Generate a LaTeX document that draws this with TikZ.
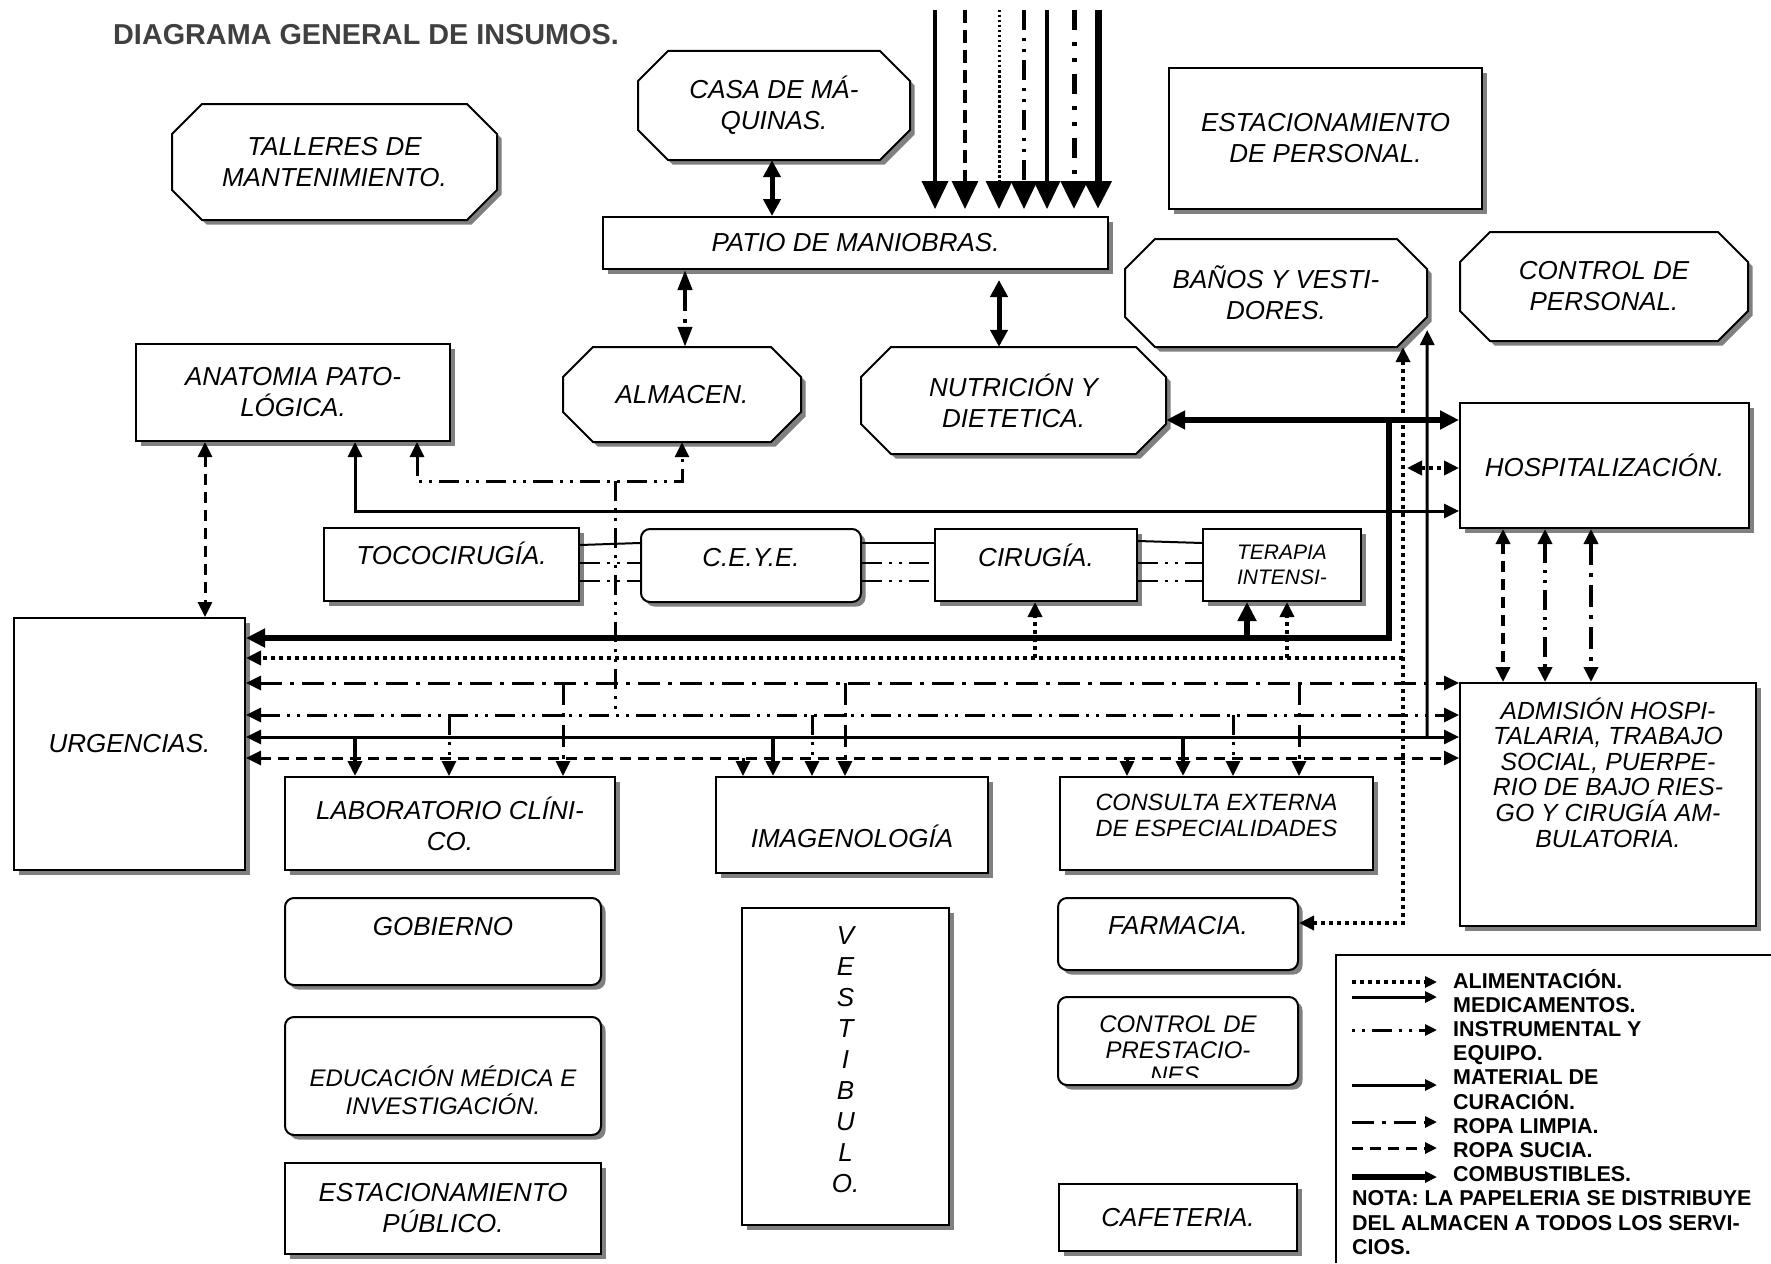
\documentclass[tikz,border=0pt]{standalone}
\usepackage{fontspec}
\setmainfont{Liberation Sans}
\usetikzlibrary{arrows.meta,shadows}

\definecolor{titlegray}{RGB}{64,64,64}
\definecolor{shade}{RGB}{128,128,128}

\newcommand{\boxfont}{\fontsize{26}{31}\selectfont\itshape}
\newcommand{\sizedfont}[2]{\fontsize{#1}{#2}\selectfont\itshape}
\newcommand{\legfont}{\fontsize{21.5}{24}\selectfont\bfseries}

\tikzset{
  boxline/.style={draw, line width=2pt, fill=white,
    drop shadow={shadow xshift=4.5pt, shadow yshift=-4.5pt, fill=shade, opacity=1}},
  box/.style={boxline, inner sep=0pt, align=center},
  rbox/.style={box, rounded corners=9pt},
  every label/.append style={align=center, inner sep=0pt},
  alim/.style={line width=4pt, dash pattern=on 4pt off 4pt},
  medic/.style={line width=3pt},
  instr/.style={line width=3pt, dash pattern=on 20pt off 7pt on 3pt off 7pt on 3pt off 7pt},
  limpia/.style={line width=3pt, dash pattern=on 22pt off 8pt on 4pt off 8pt},
  sucia/.style={line width=3pt, dash pattern=on 11pt off 7pt},
  comb/.style={line width=6.5pt, >={Triangle[length=19pt,width=18pt]}},
  heavy/.style={line width=5pt, >={Triangle[length=17pt,width=17pt]}},
  bigtip/.style={-{Triangle[length=28pt,width=26pt]}, shorten >=7pt},
  legtip/.style={-{Triangle[length=12pt,width=11pt]}},
  legtxt/.style={anchor=base west, font=\legfont, inner sep=0pt},
  % supply lines coming in from the top
  tmed/.style={line width=4pt},
  tsuc/.style={line width=3.3pt, dash pattern=on 13pt off 7pt},
  talim/.style={line width=3pt, dash pattern=on 2.5pt off 2.5pt},
  tinstr/.style={line width=3.3pt, dash pattern=on 20pt off 8pt on 3pt off 8pt on 3pt off 8pt},
  tcur/.style={line width=3.3pt},
  tlimp/.style={line width=5pt, dash pattern=on 20pt off 12pt on 4pt off 12pt on 4pt off 12pt},
  tcomb/.style={line width=7pt},
}

% octagonal box: name, x, y, width, height, text
\newcommand{\octbox}[6]{%
  \path[boxline] ({#2-#4/2+30},{#3-#5/2}) -- ({#2+#4/2-30},{#3-#5/2}) -- ({#2+#4/2},{#3-#5/2+30})
    -- ({#2+#4/2},{#3+#5/2-30}) -- ({#2+#4/2-30},{#3+#5/2}) -- ({#2-#4/2+30},{#3+#5/2})
    -- ({#2-#4/2},{#3+#5/2-30}) -- ({#2-#4/2},{#3-#5/2+30}) -- cycle;
  \node[inner sep=0pt, align=center, minimum width=#4pt, minimum height=#5pt] (#1) at (#2,#3) {#6};
}

\begin{document}
\begin{tikzpicture}[x=1pt, y=-1pt, font=\boxfont, >={Triangle[length=15pt,width=14pt]}]
%%%%% START %%%%%
\useasboundingbox (0,0) rectangle (1771,1263);

\node[anchor=base west, inner sep=0pt, text=titlegray, font=\fontsize{28.8}{34}\selectfont\bfseries] (titulo) at (113,45) {DIAGRAMA GENERAL DE INSUMOS.};

% upper row
\octbox{talleres}{334.5}{162}{325}{116}{TALLERES DE\\MANTENIMIENTO.}
\octbox{casa}{774}{105.5}{272}{109}{CASA DE MÁ-\\QUINAS.}
\node[box, minimum width=313pt, minimum height=141pt] (estper) at (1325.5,138.5) {ESTACIONAMIENTO\\DE PERSONAL.};
\node[box, minimum width=505pt, minimum height=52pt] (patio) at (855.5,243) {PATIO DE MANIOBRAS.};
\octbox{banos}{1276}{293}{302}{108}{BAÑOS Y VESTI-\\DORES.}
\octbox{ctrlper}{1604}{286.5}{288}{109}{CONTROL DE\\PERSONAL.}
\node[box, minimum width=314pt, minimum height=97pt] (anatomia) at (293,392.5) {ANATOMIA PATO-\\LÓGICA.};
\octbox{almacen}{682}{394.5}{238}{95}{ALMACEN.}
\octbox{nutricion}{1013.5}{400.5}{305}{107}{NUTRICIÓN Y\\DIETETICA.}
\node[box, minimum width=289pt, minimum height=125pt] (hosp) at (1604.5,465.5) {HOSPITALIZACIÓN.};

% surgical row
\node[box, minimum width=255pt, minimum height=73pt, label={[yshift=11pt]center:TOCOCIRUGÍA.}] (toco) at (451.5,564.5) {};
\node[rbox, minimum width=220pt, minimum height=73pt, label={[yshift=8pt]center:C.E.Y.E.}] (ceye) at (751,565.5) {};
\node[box, minimum width=202pt, minimum height=72pt, label={[yshift=10pt]center:CIRUGÍA.}] (cirugia) at (1036,565) {};
\node[box, minimum width=158pt, minimum height=72pt, font=\sizedfont{21}{25}] (terapia) at (1282,565) {TERAPIA\\INTENSI-};

% lower rows
\node[box, minimum width=231pt, minimum height=252pt] (urg) at (129.5,744) {URGENCIAS.};
\node[box, minimum width=296pt, minimum height=243pt, label={[yshift=32pt, font=\sizedfont{24.8}{25.6}]center:{ADMISIÓN HOSPI-\\TALARIA, TRABAJO\\SOCIAL, PUERPE-\\RIO DE BAJO RIES-\\GO Y CIRUGÍA AM-\\BULATORIA.}}] (admision) at (1608,804.5) {};
\node[box, minimum width=330pt, minimum height=93pt] (lab) at (450,823.5) {LABORATORIO CLÍNI-\\CO.};
\node[box, minimum width=272pt, minimum height=96pt, label={[yshift=-11pt]center:IMAGENOLOGÍA}] (imagen) at (852,825) {};
\node[box, minimum width=313pt, minimum height=93pt, label={[yshift=8pt, font=\sizedfont{23.5}{26}]center:CONSULTA EXTERNA\\DE ESPECIALIDADES}] (consulta) at (1216.5,823.5) {};
\node[rbox, minimum width=316pt, minimum height=87pt, label={[yshift=15pt]center:GOBIERNO}] (gobierno) at (443,941.5) {};
\node[box, minimum width=207pt, minimum height=317pt, label={[yshift=7pt]center:V\\E\\S\\T\\I\\B\\U\\L\\O.}] (vestibulo) at (845.5,1066.5) {};
\node[rbox, minimum width=240pt, minimum height=72pt, label={[yshift=8pt]center:FARMACIA.}] (farmacia) at (1178,934) {};
\node[rbox, minimum width=316pt, minimum height=118pt, label={[yshift=-14pt, font=\sizedfont{24}{28}]center:EDUCACIÓN MÉDICA E\\INVESTIGACIÓN.}] (educacion) at (443,1076) {};
\node[rbox, minimum width=240pt, minimum height=88pt] (prest) at (1178,1041) {};
\begin{scope}
  \clip (1058,997) rectangle (1298,1077);
  \node[align=center, inner sep=0pt, font=\sizedfont{24}{25.5}] (presttxt) at (1178,1050) {CONTROL DE\\PRESTACIO-\\NES.};
\end{scope}
\node[box, minimum width=316pt, minimum height=91pt] (estpub) at (443,1208.5) {ESTACIONAMIENTO\\PÚBLICO.};
\node[box, minimum width=238pt, minimum height=67pt] (cafeteria) at (1178,1217.5) {CAFETERIA.};

% incoming supplies
\foreach \x/\s [count=\i] in {935/tmed, 965/tsuc, 999/talim, 1024/tinstr, 1047/tcur, 1074/tlimp, 1098/tcomb} {
  \coordinate (in\i) at (\x,10);
  \draw[\s, bigtip] (in\i) -- (patio.north -| \x,0);
}

% patio
\draw[heavy, <->] (casa.south -| 772,0) -- (patio.north -| 772,0);
\draw[heavy, <->, shorten <=10pt] (patio.south -| 999,0) -- (nutricion.north -| 999,0);
\draw[limpia, line width=4pt, <->, >={Triangle[length=20pt,width=14pt]}] (patio.south -| 685,0) -- (almacen.north -| 685,0);

% combustibles
\draw[comb, <->] (nutricion.east |- 0,420) -- (hosp.west |- 0,420);
\draw[comb, ->] (1389,420) |- (urg.east |- 0,638);
\draw[comb, ->] (1247,638) -- (terapia.south -| 1247,0);

% alimentacion
\draw[alim, <->] (banos.south -| 1403,0) -- (1403,923) -- (farmacia.east |- 0,923);
\draw[alim, ->] (1403,658) -- (urg.east |- 0,658);
\draw[alim, ->] (1035,658) -- (cirugia.south -| 1035,0);
\draw[alim, ->] (1287,658) -- (terapia.south -| 1287,0);
\draw[alim, <->] (1407,468) -- (hosp.west |- 0,468);

% medicamentos y material de curacion
\draw[medic, <->] (urg.east |- 0,737) -- (admision.west |- 0,737);
\draw[medic, ->] (1427,737) -- (banos.east |- 0,330);
\draw[medic, <->] (anatomia.south -| 355,0) |- (hosp.west |- 0,511);
\draw[medic, line width=4pt, ->] (355,737) -- (lab.north -| 355,0);
\draw[medic, line width=4pt, ->] (773,737) -- (imagen.north -| 773,0);
\draw[medic, line width=4pt, ->] (1183,737) -- (consulta.north -| 1183,0);

% instrumental y equipo
\draw[instr, <->] (urg.east |- 0,715) -- (admision.west |- 0,715);
\draw[instr] (615,481) -- (615,715);
\draw[instr, <->] (anatomia.south -| 417,0) |- (615,481) -| (almacen.south);
\draw[instr, ->] (449,715) -- (lab.north -| 449,0);
\draw[instr, ->] (812,715) -- (imagen.north -| 812,0);
\draw[instr, ->] (1233,715) -- (consulta.north -| 1233,0);

% ropa limpia
\draw[limpia, <->] (urg.east |- 0,683) -- (admision.west |- 0,683);
\draw[limpia, ->] (563,683) -- (lab.north -| 563,0);
\draw[limpia, ->] (845,683) -- (imagen.north -| 845,0);
\draw[limpia, ->] (1299,683) -- (consulta.north -| 1299,0);

% ropa sucia
\draw[sucia, <->] (urg.east |- 0,758) -- (admision.west |- 0,758);
\draw[sucia, ->] (743,758) -- (imagen.north -| 743,0);
\draw[sucia, ->] (1127,758) -- (consulta.north -| 1127,0);
\draw[sucia, <->] (anatomia.south -| 205,0) -- (urg.north -| 205,0);

% hospitalizacion - admision
\draw[sucia, line width=3.5pt, <->] (hosp.south -| 1503,0) -- (admision.north -| 1503,0);
\draw[instr, line width=4.5pt, <->] (hosp.south -| 1545,0) -- (admision.north -| 1545,0);
\draw[limpia, line width=4.5pt, <->] (hosp.south -| 1591,0) -- (admision.north -| 1591,0);

% tococirugia - ceye - cirugia - terapia
\draw[line width=2pt] (toco.east |- 0,545) -- (ceye.west |- 0,543);
\draw[line width=2pt] (ceye.east |- 0,543) -- (cirugia.west |- 0,543);
\draw[line width=2pt] (cirugia.east |- 0,541) -- (terapia.west |- 0,543);
\foreach \y in {563,581} {
  \draw[instr, line width=2.5pt] (toco.east |- 0,\y) -- (ceye.west |- 0,\y);
  \draw[instr, line width=2.5pt] (ceye.east |- 0,\y) -- (cirugia.west |- 0,\y);
  \draw[instr, line width=2.5pt] (cirugia.east |- 0,\y) -- (terapia.west |- 0,\y);
}

% legend
\draw[line width=2.5pt] (1771,955) -| (1336,1263);
\foreach \y/\s in {982/alim, 997/medic, 1085/medic, 1122/limpia, 1148/sucia, 1177/comb}
  \draw[\s, legtip] (1352,\y) -- (1437,\y);
\draw[instr, dash phase=27pt, legtip] (1352,1030) -- (1437,1030);
\foreach \t [count=\i from 0] in {ALIMENTACIÓN., MEDICAMENTOS., INSTRUMENTAL Y, EQUIPO., MATERIAL DE, CURACIÓN., ROPA LIMPIA., ROPA SUCIA., COMBUSTIBLES.}
  \node[legtxt] (ley\i) at (1453,988+24.2*\i) {\t};
\foreach \t [count=\i from 0] in {NOTA: LA PAPELERIA SE DISTRIBUYE, DEL ALMACEN A TODOS LOS SERVI-, CIOS.}
  \node[legtxt] (nota\i) at (1352,1205.8+24.2*\i) {\t};
%%%%% END %%%%%
\end{tikzpicture}
\end{document}
